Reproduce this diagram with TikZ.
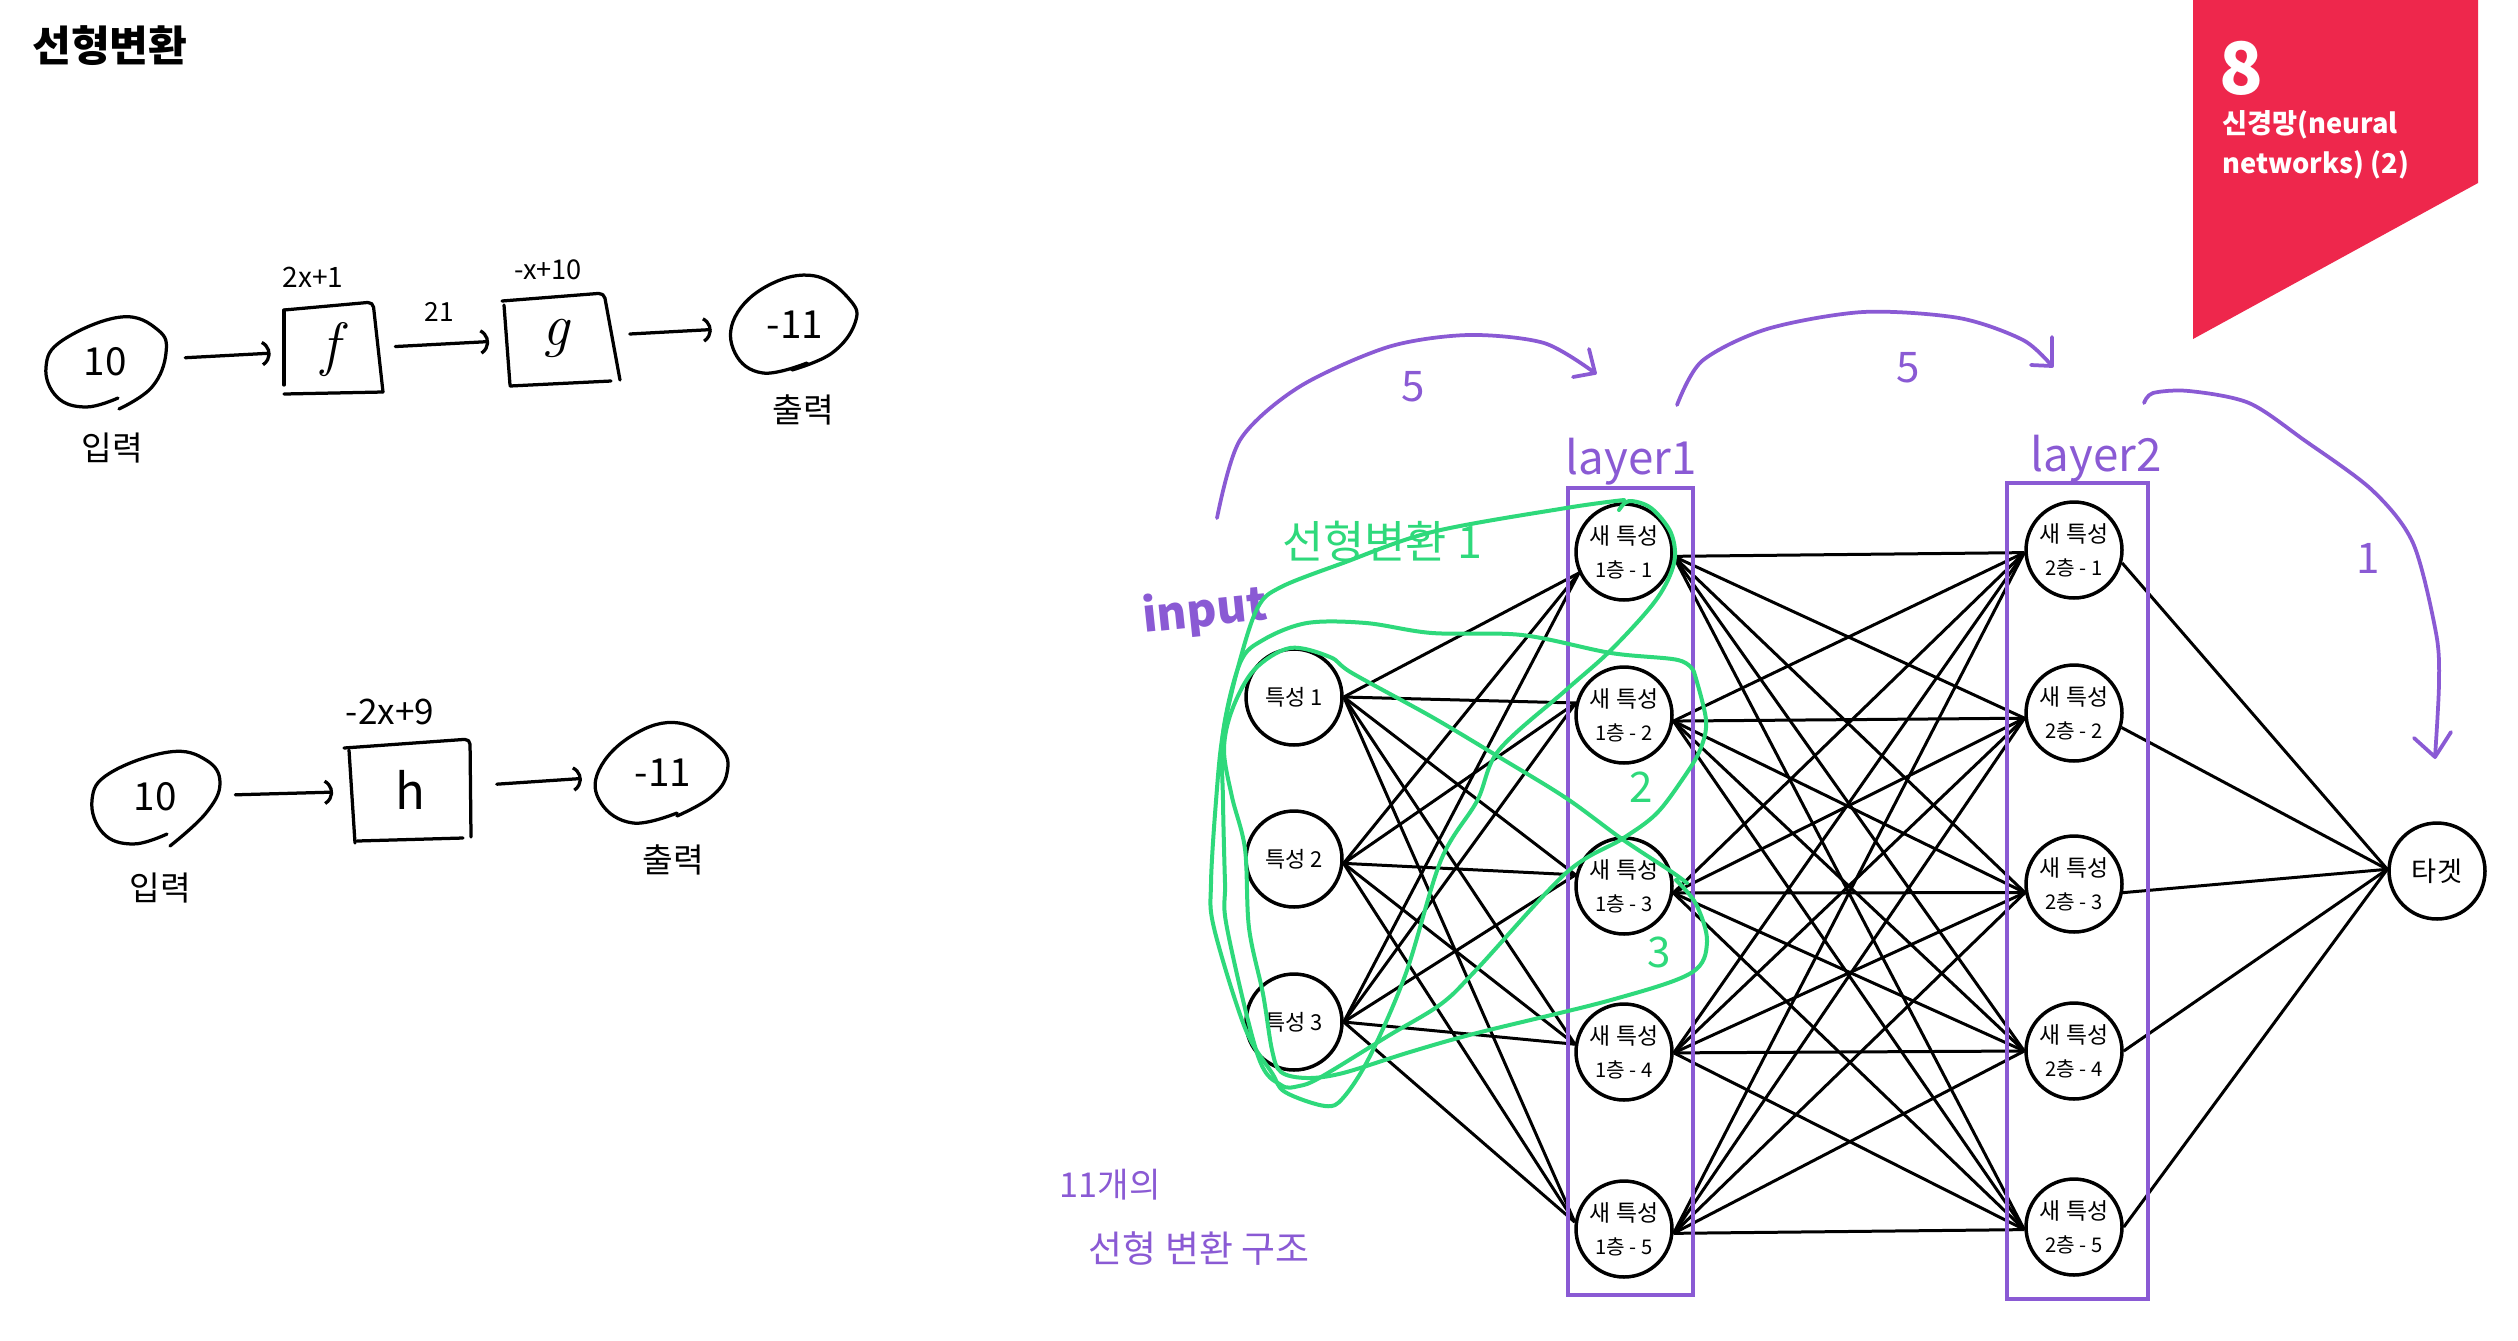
\documentclass[tikz,border=0pt]{standalone}
\usepackage{fontspec}
\usetikzlibrary{arrows.meta}
\newfontfamily\kr{Noto Sans CJK KR}
\definecolor{pur}{HTML}{8A5AD4}
\definecolor{grn}{HTML}{2ED97B}
\definecolor{rd}{HTML}{EE274C}
\newcommand{\fs}[1]{\kr\fontsize{#1}{#1}\selectfont}
\newcommand{\sublabel}[1]{\fontsize{11.5}{11.5}\selectfont #1}
\tikzset{
  x=0.02cm,y=-0.02cm,
  ink/.style={line width=0.065cm,line cap=round,line join=round},
  blob/.style={ink,smooth,tension=0.7},
  handnode/.style={circle,minimum size=2.4cm,inner sep=0pt,font=\fs{22}},
  boxnode/.style={rectangle,inner sep=0pt,font=\fs{28}},
  flowarrow/.style={ink,-{Arc Barb[length=0.3cm,width=0.58cm,arc=120]}},
  hlabel/.style={font=\fs{19},inner sep=0pt},
  neuron/.style={circle,draw,line width=0.07cm,minimum size=1.92cm,inner sep=0pt,align=center,font=\kr\fontsize{13}{19}\selectfont},
  inneuron/.style={neuron,font=\kr\fontsize{12.5}{19}\selectfont},
  netedge/.style={line width=0.06cm},
  purp/.style={color=pur,line width=0.075cm,line cap=round,line join=round},
  purframe/.style={draw=pur,line width=0.075cm},
  purtext/.style={text=pur,inner sep=0pt},
  grntext/.style={text=grn,inner sep=0pt},
  grnline/.style={color=grn,line width=0.08cm,line cap=round,line join=round},
}
\begin{document}
\begin{tikzpicture}
\useasboundingbox (0,0) rectangle (2518,1340);
\fill[white] (0,0) rectangle (2518,1340);

% header
\node[anchor=west,inner sep=0pt,font=\fs{24}\bfseries] (title) at (32,46) {선형변환};
\fill[rd] (2193,0) -- (2478,0) -- (2478,183) -- (2193,339) -- cycle;
\node[anchor=west,inner sep=0pt,text=white,font=\fs{41}\bfseries] (num) at (2219,68) {8};
\node[anchor=west,inner sep=0pt,text=white,font=\fs{15.5}\bfseries] (ch1) at (2222,125) {신경망(neural};
\node[anchor=west,inner sep=0pt,text=white,font=\fs{15.5}\bfseries] (ch2) at (2222,165) {networks) (2)};

% first flow
\node[handnode] (a10) at (105,362) {10};
\node[boxnode,minimum width=1.96cm,minimum height=1.66cm,font=\normalfont\fontsize{34}{34}\selectfont\itshape] (f) at (330,350) {f};
\node[boxnode,minimum width=2.26cm,minimum height=1.7cm,font=\normalfont\fontsize{34}{34}\selectfont\itshape] (g) at (556,338) {g};
\node[handnode] (am) at (795,325) {-11};
\draw[flowarrow,shorten <=0.4cm,shorten >=0.2cm] (a10) -- (f);
\draw[flowarrow,shorten <=0.32cm,shorten >=0.2cm] (f) -- (g);
\draw[flowarrow,shorten <=0.34cm,shorten >=0.46cm] (g) -- (am);
\draw[blob] plot coordinates {(118,398) (86,407) (57,397) (46,367) (63,340) (121,317) (158,330) (166,353) (152,387) (119,409)};
\draw[blob] plot coordinates {(792,370) (832,353) (855,323) (850,300) (815,276) (769,285) (735,317) (735,353) (763,373) (807,363)};
\draw[ink] (284,310) -- (284,385);
\draw[ink,rounded corners=3pt] (284,310) -- (373,302) -- (383,392);
\draw[ink] (284,394) -- (383,392);
\draw[ink,rounded corners=3pt] (502,301) -- (604,293) -- (620,380);
\draw[ink] (504,305) -- (510,385);
\draw[ink] (510,386) -- (611,381);
\node[inner sep=0pt,font=\fs{16}] (l1) at (313,277) {2x+1};
\node[inner sep=0pt,font=\fs{15.5}] (l2) at (548,270) {-x+10};
\node[inner sep=0pt,font=\fs{15}] (l3) at (439,312) {21};
\node[hlabel] (l4) at (112,448) {입력};
\node[hlabel] (l5) at (803,410) {출력};

% second flow
\node[handnode] (b10) at (155,797) {10};
\node[boxnode,minimum width=2.46cm,minimum height=1.94cm] (h) at (410,790) {h};
\node[handnode] (bm) at (663,773) {-11};
\draw[flowarrow,shorten <=0.4cm,shorten >=0.3cm] (b10) -- (h);
\draw[flowarrow,shorten <=0.5cm,shorten >=0.42cm] (h) -- (bm);
\draw[blob] plot coordinates {(167,834) (133,844) (103,833) (92,800) (110,773) (169,752) (206,760) (220,783) (206,813) (170,846)};
\draw[blob] plot coordinates {(677,813) (633,823) (601,803) (599,770) (633,735) (679,723) (720,747) (727,773) (711,797) (677,816)};
\draw[ink,rounded corners=3pt] (344,748) -- (470,739) -- (471,837);
\draw[ink] (349,750) -- (355,843);
\draw[ink] (357,841) -- (463,838);
\node[inner sep=0pt,font=\fs{20}] (l6) at (390,712) {-2x+9};
\node[hlabel] (l7) at (160,888) {입력};
\node[hlabel] (l8) at (673,860) {출력};

% network nodes
\node[inneuron] (i1) at (1294,697) {특성 1};
\node[inneuron] (i2) at (1294,859) {특성 2};
\node[inneuron] (i3) at (1294,1022) {특성 3};
\node[neuron] (h1) at (1624,552) {새 특성\\\sublabel{1층 - 1}};
\node[neuron] (h2) at (1624,715) {새 특성\\\sublabel{1층 - 2}};
\node[neuron] (h3) at (1624,886) {새 특성\\\sublabel{1층 - 3}};
\node[neuron] (h4) at (1624,1052) {새 특성\\\sublabel{1층 - 4}};
\node[neuron] (h5) at (1624,1229) {새 특성\\\sublabel{1층 - 5}};
\node[neuron] (k1) at (2074,550) {새 특성\\\sublabel{2층 - 1}};
\node[neuron] (k2) at (2074,713) {새 특성\\\sublabel{2층 - 2}};
\node[neuron] (k3) at (2074,884) {새 특성\\\sublabel{2층 - 3}};
\node[neuron] (k4) at (2074,1051) {새 특성\\\sublabel{2층 - 4}};
\node[neuron] (k5) at (2074,1227) {새 특성\\\sublabel{2층 - 5}};
\node[neuron,font=\kr\fontsize{15.5}{19}\selectfont] (t) at (2437,871) {타겟};

% network edges
\foreach \n/\a in {1/205,2/166,3/167,4/171,5/172}{\coordinate (hin\n) at (h\n.\a);}
\foreach \n/\a in {1/-5,2/-7,3/-8,4/-1,5/-5}{\coordinate (hout\n) at (h\n.\a);}
\foreach \n/\a in {1/183,2/186,3/190,4/180,5/183}{\coordinate (kin\n) at (k\n.\a);}
\foreach \n/\a in {1/-15,2/-17,3/-10,4/0,5/0}{\coordinate (kout\n) at (k\n.\a);}
\coordinate (tin) at (t.178);
\coordinate (iout1) at (i1.east);
\coordinate (iout2) at (i2.-5);
\coordinate (iout3) at (i3.east);
\foreach \i in {1,2,3}{\foreach \j in {1,...,5}{\draw[netedge] (iout\i) -- (hin\j);}}
\foreach \i in {1,...,5}{\foreach \j in {1,...,5}{\draw[netedge] (hout\i) -- (kin\j);}}
\foreach \i in {1,...,5}{\draw[netedge] (kout\i) -- (tin);}

% layer frames
\draw[purframe] (1568,488) rectangle (1693,1295);
\draw[purframe] (2007,483) rectangle (2148,1299);
\node[purtext,font=\fs{26}] (la1) at (1631,462) {layer1};
\node[purtext,font=\fs{26}] (la2) at (2096,459) {layer2};

% purple arcs
\draw[purp,smooth] plot coordinates {(1217,518) (1240,440) (1299,387) (1388,347) (1468,335) (1544,343) (1595,373)};
\draw[purp] (1589,349) -- (1595,373) -- (1573,377);
\draw[purp,smooth] plot coordinates {(1677,405) (1702,361) (1767,329) (1863,312) (1959,318) (2023,340) (2052,366)};
\draw[purp] (2052,337) -- (2052,366) -- (2031,365);
\draw[purp,smooth] plot coordinates {(2144,403) (2153,393) (2189,391) (2249,403) (2304,440) (2372,490) (2413,543) (2436,633) (2439,683) (2435,757)};
\draw[purp] (2414,738) -- (2435,757) -- (2451,732);
\node[purtext,font=\fs{24}] (n5a) at (1413,387) {5};
\node[purtext,font=\fs{24}] (n5b) at (1908,368) {5};
\node[purtext,font=\fs{24}] (n1) at (2368,558) {1};
\node[purtext,font=\fs{26}\bfseries,rotate=6] (inp) at (1205,612) {input};
\node[purtext,font=\fs{19.5}] (c1) at (1110,1185) {11개의};
\node[purtext,font=\fs{21}] (c2) at (1199,1249) {선형 변환 구조};

% green loops
\draw[grnline,smooth,tension=0.55] plot coordinates {(1619,510) (1629,501) (1651,508) (1671,533) (1674,563) (1656,600) (1611,650) (1566,690) (1499,750) (1477,801) (1441,860) (1406,973) (1370,1056) (1343,1098) (1325,1106) (1285,1092) (1272,1073) (1245,1028) (1214,928) (1211,883) (1216,801) (1223,733) (1240,660) (1258,607) (1281,587) (1343,563) (1432,532) (1566,508) (1624,500)};
\draw[grnline,smooth,tension=0.55] plot coordinates {(1694,672) (1678,660) (1611,653) (1522,635) (1432,633) (1366,623) (1307,623) (1263,640) (1240,663) (1223,733) (1223,801) (1225,883) (1227,928) (1258,1056) (1281,1085) (1299,1086) (1321,1077) (1388,1036) (1441,1004) (1477,969) (1566,873) (1622,839) (1656,814) (1682,780) (1700,750) (1706,720) (1694,672)};
\draw[grnline,smooth,tension=0.55] plot coordinates {(1676,880) (1696,904) (1707,942) (1691,973) (1611,1000) (1477,1033) (1410,1052) (1343,1073) (1307,1078) (1281,1072) (1272,1050) (1263,994) (1249,928) (1245,849) (1232,797) (1224,750) (1232,710) (1254,670) (1290,648) (1330,657) (1352,673) (1432,717) (1499,757) (1566,798) (1622,839) (1669,870) (1687,883)};
\node[grntext,font=\fs{25.5}] (g1) at (1382,541) {선형변환 1};
\node[grntext,font=\fs{24}] (g2) at (1641,787) {2};
\node[grntext,font=\fs{24}] (g3) at (1659,952) {3};
\end{tikzpicture}
\end{document}
